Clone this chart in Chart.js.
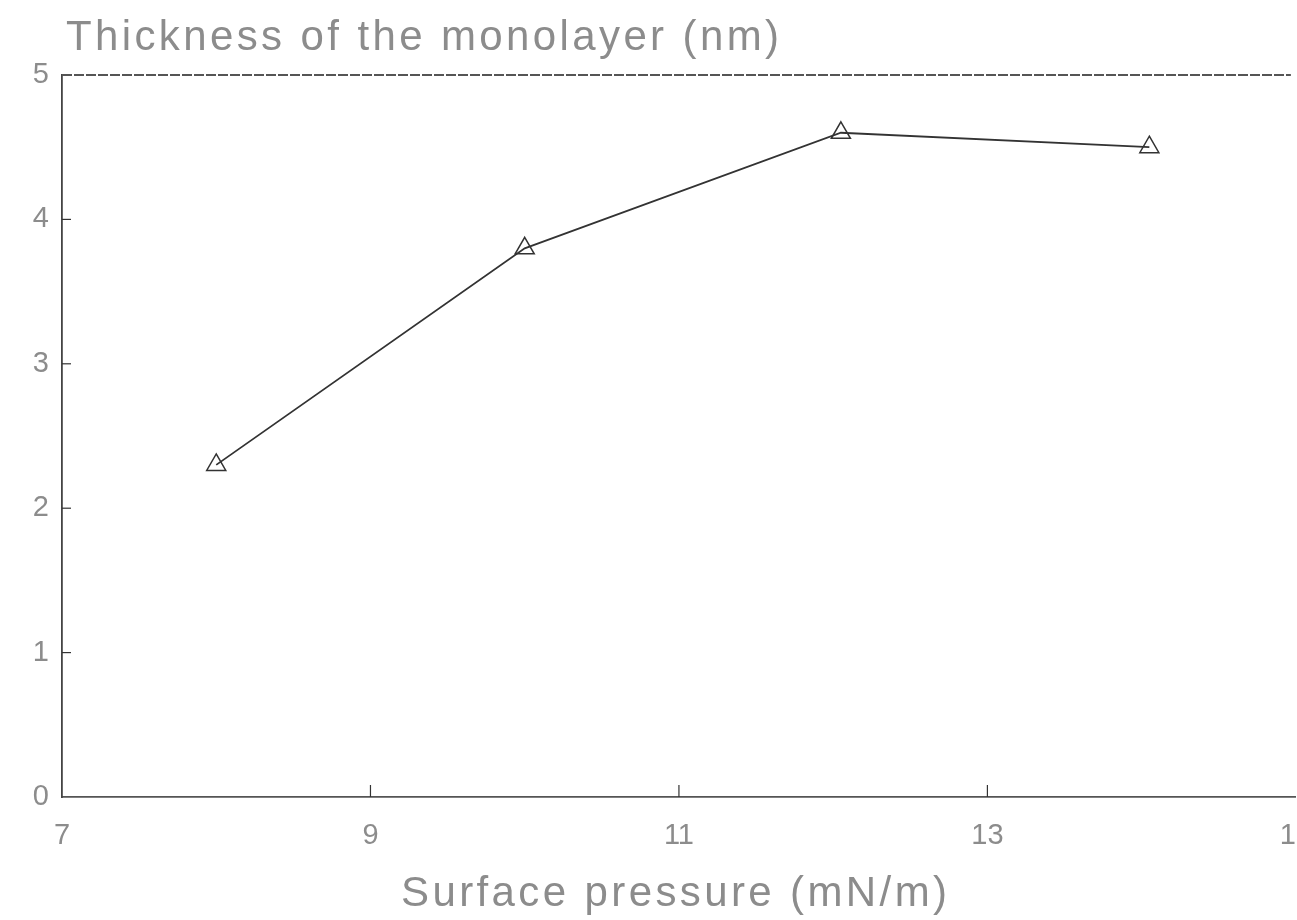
<!DOCTYPE html>
<html>
<head>
<meta charset="utf-8">
<script src="https://cdn.jsdelivr.net/npm/chart.js@4"></script>
<style>
  html, body { margin: 0; padding: 0; background: #fff; overflow: hidden; }
  #wrap { width: 1297px; height: 920px; overflow: hidden; }
</style>
</head>
<body>
<div id="wrap"><canvas id="chart" width="1334" height="920"></canvas></div>
<script>
// data
const pressure = [8, 10, 12.05, 14.05];          // mN/m
const thickness = [2.3, 3.8, 4.6, 4.5];          // nm
const xTicks = [7, 9, 11, 13, 15];
const yTicks = [0, 1, 2, 3, 4, 5];
const yTitle = 'Thickness of the monolayer (nm)';
const xTitle = 'Surface pressure (mN/m)';

const textColor = '#8c8c8c';
const lineColor = '#333';
const fontFamily = '"Liberation Sans", Arial, sans-serif';

// draws text stretched with letter spacing so it covers a given width
function spacedText(ctx, text, x, y, width, align) {
    ctx.letterSpacing = '0px';
    const natural = ctx.measureText(text).width;
    const spacing = (width - natural) / (text.length - 1);
    ctx.letterSpacing = spacing + 'px';
    ctx.textAlign = 'left';
    const startX = align === 'center' ? x - width / 2 : x;
    ctx.fillText(text, startX, y);
    ctx.letterSpacing = '0px';
}

// top frame line, inward tick marks and the two titles
const framePlugin = {
    id: 'frame',
    afterDraw(chart) {
        const ctx = chart.ctx;
        const area = chart.chartArea;
        const xs = chart.scales.x;
        const ys = chart.scales.y;
        ctx.save();
        ctx.strokeStyle = '#555';
        ctx.lineWidth = 2;
        ctx.setLineDash([10, 2]);
        ctx.beginPath();
        ctx.moveTo(area.left, area.top);
        ctx.lineTo(area.right - 5, area.top);
        ctx.stroke();
        ctx.setLineDash([]);
        ctx.strokeStyle = lineColor;
        ctx.lineWidth = 1.2;
        yTicks.forEach(v => {
            if (v === 0 || v === 5) return;
            const py = ys.getPixelForValue(v);
            ctx.beginPath();
            ctx.moveTo(area.left, py);
            ctx.lineTo(area.left + 9, py);
            ctx.stroke();
        });
        xTicks.forEach(v => {
            if (v === 7 || v === 15) return;
            const px = xs.getPixelForValue(v);
            ctx.beginPath();
            ctx.moveTo(px, area.bottom);
            ctx.lineTo(px, area.bottom - 12);
            ctx.stroke();
        });
        ctx.fillStyle = textColor;
        ctx.font = '42px ' + fontFamily;
        ctx.textBaseline = 'middle';
        spacedText(ctx, yTitle, area.left + 4, 38, 713, 'left');
        spacedText(ctx, xTitle, 674, 894, 546, 'center');
        ctx.restore();
    }
};

const ctx = document.getElementById('chart').getContext('2d');
new Chart(ctx, {
    type: 'line',
    data: {
        datasets: [{
            data: pressure.map((p, i) => ({ x: p, y: thickness[i] })),
            borderColor: lineColor,
            borderWidth: 1.8,
            pointStyle: 'triangle',
            pointRadius: 11,
            pointBorderWidth: 1.5,
            pointBorderColor: lineColor,
            pointBackgroundColor: 'rgba(255,255,255,0)',
            tension: 0,
            fill: false
        }]
    },
    options: {
        responsive: false,
        animation: false,
        layout: { padding: { top: 75, right: 0, left: 0, bottom: 0 } },
        plugins: { legend: { display: false }, tooltip: { enabled: false } },
        scales: {
            x: {
                type: 'linear',
                min: 7,
                max: 15,
                afterBuildTicks: s => { s.ticks = xTicks.map(v => ({ value: v })); },
                afterFit: s => { s.height = 123; },
                grid: { display: false, drawTicks: false },
                border: { display: true, color: '#555', width: 1.8 },
                ticks: { color: textColor, padding: 22, font: { family: fontFamily, size: 29 } }
            },
            y: {
                type: 'linear',
                min: 0,
                max: 5,
                afterBuildTicks: s => { s.ticks = yTicks.map(v => ({ value: v })); },
                afterFit: s => { s.width = 62; },
                grid: { display: false, drawTicks: false },
                border: { display: true, color: '#444', width: 1.8 },
                ticks: { color: textColor, padding: 13, font: { family: fontFamily, size: 29 } }
            }
        }
    },
    plugins: [framePlugin]
});
</script>
</body>
</html>
